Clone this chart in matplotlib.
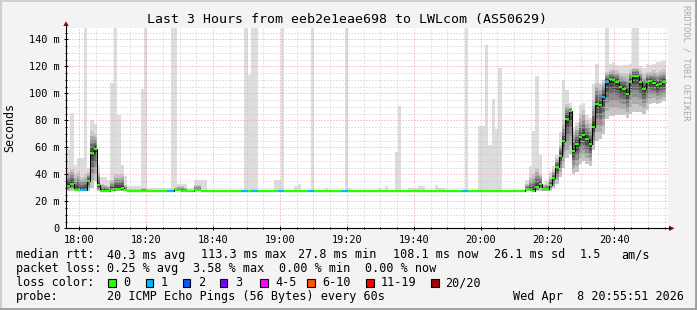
import matplotlib
matplotlib.use("Agg")
import matplotlib.pyplot as plt
import numpy as np
from matplotlib.lines import Line2D
from matplotlib.patches import Polygon, Rectangle
from matplotlib.ticker import FixedLocator, MultipleLocator

W, H = 697, 310
plt.rcParams['font.family'] = ['DejaVu Sans Mono']

title = "Last 3 Hours from eeb2e1eae698 to LWLcom (AS50629)"
tick_minutes = [0, 20, 40, 60, 80, 100, 120, 140, 160]   # minutes after 18:00
tick_labels = ["18:00", "18:20", "18:40", "19:00", "19:20",
               "19:40", "20:00", "20:20", "20:40"]
y_ticks = [0, 20, 40, 60, 80, 100, 120, 140]
y_labels = ["0", "20 m", "40 m", "60 m", "80 m", "100 m", "120 m", "140 m"]

first_slot = -3.7   # first 1-minute slot, minutes relative to 18:00

# median rtt per minute (ms)
median = ([31.6, 33.0, 28.6, 28.6, 28.6, 28.6, 35.0, 56.0, 59.0, 32.0,
           27.9, 27.9, 27.9, 28.6, 29.2, 29.2, 30.0, 28.6]
          + [27.8] * 14
          + [29.0, 28.6, 27.8, 27.8, 27.8, 27.8, 28.6, 28.6]
          + [27.8] * 97
          + [29.1, 28.1, 27.9, 30.4, 33.0, 29.0, 29.0, 32.0, 37.5, 45.6,
             53.6, 64.9, 81.0, 86.9, 57.3, 62.4, 67.4, 69.0, 66.1, 62.2,
             75.3, 92.3, 91.3, 97.5, 108.6, 110.8, 110.0, 108.6, 104.4, 103.4,
             99.8, 108.6, 113.1, 113.1, 108.6, 103.4, 108.6, 109.0, 107.9, 106.1,
             107.0, 108.1])

# slowest ping per minute (ms), 150 = off the top
ping_max = [59, 85.6, 47, 52, 52, 150, 45, 80, 77, 46.6,
            38, 38, 36, 108, 150, 84, 47, 39, 31, 31,
            31, 31, 103, 150, 29.5, 29.5, 29.5, 29.5, 29.5, 29.5,
            29.5, 150, 150, 33, 33, 33, 29.5, 29.5, 36, 36,
            36, 36, 28.6, 28.6, 28.6, 28.6, 28.6, 28.6, 28.6, 28.6,
            28.6, 28.6, 28.6, 150, 113.6, 150, 150, 28.6, 28.6, 28.6,
            28.6, 28.6, 36, 36, 150, 28.6, 28.6, 28.6, 31, 33,
            28.6, 28.6, 28.6, 150, 28.6, 28.6, 28.6, 30, 28.6, 28.6,
            28.6, 28.6, 28.6, 150, 30, 28.6, 28.6, 28.6, 28.6, 28.6,
            28.6, 28.6, 28.6, 30, 28.6, 31, 28.6, 28.6, 56.8, 90.6,
            28.6, 28.6, 30, 30, 30, 31, 31, 28.6, 28.6, 28.6,
            32, 30, 30, 28.6, 28.6, 28.6, 28.6, 28.6, 28.6, 150,
            28.6, 28.6, 28.6, 76, 76, 135.8, 61.7, 95.8, 73.5, 119,
            28.6, 28.6, 28.6, 28.6, 28.6, 28.6, 28.6, 35.8, 46, 72,
            113, 54, 33, 35, 42, 46, 54, 71.6, 110, 102.4,
            92.6, 74, 79, 91, 93, 84, 82, 106.6, 122, 108,
            110, 150, 122, 123, 121, 120, 121, 121, 122, 150,
            150, 120, 119, 122, 121, 122, 123, 123, 124]

# upper edge of the dense smoke (ms)
smoke_hi = ([42, 44, 40, 42, 38, 40, 42, 72, 70, 42,
             33, 32, 31, 36, 40, 40, 40, 32, 29, 29,
             29, 29, 29.5, 29.5]
            + [28.6] * 7
            + [29, 29, 31, 31, 30, 28.6, 28.6, 32, 32]
            + [28.6] * 97
            + [33, 38, 40, 45, 40, 32, 33, 38, 43, 52,
               62, 80, 92, 90, 72, 76, 85, 88, 80, 78,
               95, 108, 106, 110, 116, 117, 118, 117, 115, 115,
               114, 117, 119, 119, 117, 114, 116, 116, 117, 116,
               117, 118])

# fastest ping per minute (ms)
smoke_lo = ([27.5, 27.8, 27.5, 27.5, 27.5, 27.5, 28, 30, 35, 27.5]
            + [27.3] * 127
            + [27.3, 27.3, 27.2, 27.5, 27.6, 27.5, 27.5, 28, 30, 33,
               38, 45, 52, 55, 40, 42, 48, 50, 48, 46,
               58, 65, 66, 70, 81, 83, 83, 84, 84, 84,
               82, 85, 86, 86, 86, 85, 88, 92, 93, 92,
               93, 94])

# slots where 1 of 20 pings was lost
one_lost = [4, 5, 30, 31, 52, 53, 55, 56, 63, 64, 72, 73, 82, 83,
            118, 119, 160, 161]

loss_names = ["0", "1", "2", "3", "4-5", "6-10", "11-19", "20/20"]
loss_colors = ["#26ff00", "#00b8ff", "#0059ff", "#7e00ff",
               "#ff00ff", "#ff5500", "#ff0000", "#a00000"]

stats_rtt = ["median rtt:", "40.3 ms avg", "113.3 ms max", "27.8 ms min",
             "108.1 ms now", "26.1 ms sd", "1.5", "am/s"]
stats_loss = ["packet loss:", "0.25 % avg", "3.58 % max", "0.00 % min",
              "0.00 % now"]
probe = ["probe:", "20 ICMP Echo Pings (56 Bytes) every 60s"]
stamp = "Wed Apr  8 20:55:51 2026"


def fp(x, y):
    return x / W, 1 - y / H


n = len(median)
med = np.array(median, dtype=float)
lo = np.array(smoke_lo, dtype=float)
hi = np.array(smoke_hi, dtype=float)
mx = np.array(ping_max, dtype=float)
loss = np.zeros(n, dtype=int)
loss[one_lost] = 1
edges = first_slot + np.arange(n + 1)

fig = plt.figure(figsize=(W / 100, H / 100), dpi=100, facecolor="#f3f3f3")
ax = fig.add_axes([66 / W, 1 - 228.3 / H, 602 / W, 200.3 / H])
ax.set_facecolor("white")
ax.set_xlim(-4, 176)
ax.set_ylim(0, 148.4)

# smoke
ax.stairs(mx, edges, baseline=lo, fill=True, color="#dddddd", lw=0, zorder=1)
for f, c in zip([1.0, 0.78, 0.58, 0.4, 0.24, 0.1],
                ["#c6c6c6", "#aaaaaa", "#8c8c8c", "#6c6c6c", "#4c4c4c", "#2c2c2c"]):
    ax.stairs(med + (hi - med) * f, edges, baseline=med - (med - lo) * f,
              fill=True, color=c, lw=0, zorder=1)

# median line coloured by loss
ax.stairs(med, edges, baseline=None, color="black", lw=0.75, zorder=4)
ax.hlines(med, edges[:-1], edges[1:], colors=[loss_colors[v] for v in loss],
          lw=1.6, zorder=5, capstyle="butt")

ax.xaxis.set_major_locator(FixedLocator(tick_minutes))
ax.set_xticklabels(tick_labels)
ax.xaxis.set_minor_locator(MultipleLocator(5))
ax.yaxis.set_major_locator(FixedLocator(y_ticks))
ax.set_yticklabels(y_labels)
ax.yaxis.set_minor_locator(MultipleLocator(5))
ax.set_axisbelow(False)
ax.grid(which="minor", color="#c8c8c8", lw=0.72, ls=(0, (1, 2)))
ax.grid(which="major", color="#e8a0a0", lw=0.72, ls=(0, (1, 2)))
ax.tick_params(which="major", direction="inout", length=3, width=0.7,
               labelsize=7.4, pad=3, colors="black")
ax.tick_params(which="minor", direction="inout", length=2, width=0.7)
for s in ax.spines.values():
    s.set_visible(False)

# axes with arrows
fig.add_artist(Line2D(*zip(fp(66, 228.3), fp(66, 25)), color="black", lw=0.8))
fig.add_artist(Line2D(*zip(fp(66, 228.3), fp(670, 228.3)), color="black", lw=0.8))
fig.add_artist(Polygon([fp(63.3, 26), fp(68.7, 26), fp(66, 21.3)], closed=True,
                       color="#a00000", lw=0))
fig.add_artist(Polygon([fp(669, 225.6), fp(669, 231), fp(674.5, 228.3)], closed=True,
                       color="#a00000", lw=0))

# frame
fig.add_artist(Line2D(*zip(fp(0, 0.8), fp(W, 0.8)), color="#cfcfcf", lw=1.4))
fig.add_artist(Line2D(*zip(fp(0.8, 0), fp(0.8, H)), color="#cfcfcf", lw=1.4))
fig.add_artist(Line2D(*zip(fp(0, H - 1.2), fp(W, H - 1.2)), color="#9e9e9e", lw=2))
fig.add_artist(Line2D(*zip(fp(W - 1.2, 0), fp(W - 1.2, H)), color="#9e9e9e", lw=2))

fig.text(*fp(347, 23.5), title, ha="center", va="baseline", fontsize=9.55)
fig.text(*fp(10, 128), "Seconds", rotation=90, ha="center", va="center", fontsize=8.4)
fig.text(*fp(686, 5), "RRDTOOL / TOBI OETIKER", rotation=270, ha="center",
         va="top", fontsize=6.2, color="#a8a8a8")

fs = 8.45
for s, x in zip(stats_rtt, [16, 107.3, 200.7, 297.5, 393.3, 494, 579.3, 621.7]):
    fig.text(*fp(x, 258.5), s, fontsize=fs, va="baseline")
for s, x in zip(stats_loss, [16, 107.3, 193.5, 279, 365]):
    fig.text(*fp(x, 272.3), s, fontsize=fs, va="baseline")
fig.text(*fp(16, 286), "loss color:", fontsize=fs, va="baseline")
box_x = [108.3, 145.7, 182.7, 219.7, 260.3, 307.3, 366, 431]
lab_x = [123.3, 160.7, 197.7, 234.7, 275.3, 322, 380.7, 445]
for name, c, bx, lx in zip(loss_names, loss_colors, box_x, lab_x):
    fig.add_artist(Rectangle(fp(bx, 286.5), 7.7 / W, 7.7 / H, facecolor=c,
                             edgecolor="black", lw=0.8))
    fig.text(*fp(lx, 286), name, fontsize=fs, va="baseline")
fig.text(*fp(16, 299.8), probe[0], fontsize=fs, va="baseline")
fig.text(*fp(107.3, 299.8), probe[1], fontsize=fs, va="baseline")
fig.text(*fp(513.3, 299.8), stamp, fontsize=fs, va="baseline")

fig.savefig("out.png", dpi=100, facecolor=fig.get_facecolor())
